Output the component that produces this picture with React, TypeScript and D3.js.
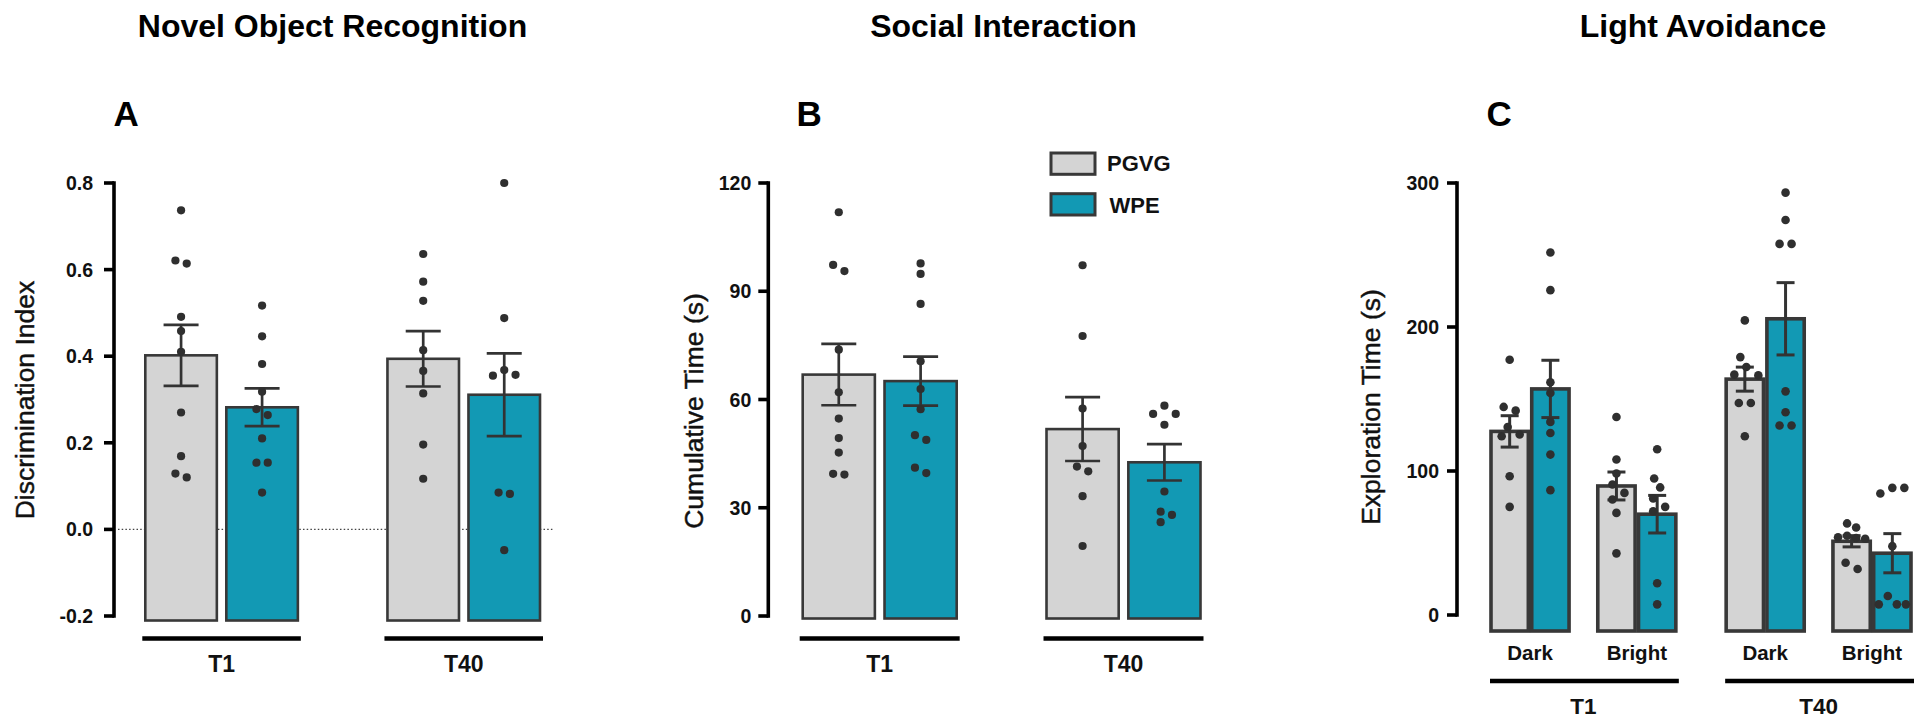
import React from "react";
import * as d3 from "d3";

// ---------- shared ----------
const FONT = "'Liberation Sans', Arial, Helvetica, sans-serif";
const GRAY = "#d4d4d4";
const TEAL = "#1299b4";
const EDGE = "#383838";
const DOT = "#2f2f2f";
const seriesNames = ["PGVG", "WPE"];
const seriesFill: Record<string, string> = { PGVG: GRAY, WPE: TEAL };

// ---------- Panel A: Novel Object Recognition ----------
const norGroups = ["T1", "T40"];
const norTicks = [-0.2, 0, 0.2, 0.4, 0.6, 0.8];
const norPGVGMean = [0.402, 0.394];
const norPGVGSem = [0.0705, 0.064];
const norWPEMean = [0.282, 0.311];
const norWPESem = [0.0435, 0.0955];
const norPGVG_T1 = [0.737, 0.621, 0.614, 0.491, 0.458, 0.41, 0.27, 0.169, 0.129, 0.12];
const norWPE_T1 = [0.517, 0.446, 0.382, 0.318, 0.278, 0.264, 0.21, 0.154, 0.154, 0.085];
const norPGVG_T40 = [0.636, 0.572, 0.528, 0.414, 0.366, 0.314, 0.196, 0.117];
const norWPE_T40 = [0.8, 0.488, 0.368, 0.357, 0.355, 0.085, 0.082, -0.048];

// ---------- Panel B: Social Interaction ----------
const siGroups = ["T1", "T40"];
const siTicks = [0, 30, 60, 90, 120];
const siPGVGMean = [66.9, 51.8];
const siPGVGSem = [8.5, 8.85];
const siWPEMean = [65.1, 42.6];
const siWPESem = [6.8, 5.05];
const siPGVG_T1 = [111.9, 97.3, 95.6, 73.8, 62.0, 54.7, 49.3, 45.3, 39.4, 39.2];
const siWPE_T1 = [97.7, 94.8, 86.5, 70.6, 62.9, 57.3, 50.1, 48.8, 41.1, 39.6];
const siPGVG_T40 = [97.2, 77.6, 57.5, 47.1, 41.4, 40.1, 33.2, 19.4];
const siWPE_T40 = [58.3, 56.0, 56.0, 53.0, 34.5, 28.9, 28.0, 26.0];

// ---------- Panel C: Light Avoidance ----------
const laGroups = ["T1", "T40"];
const laConditions = ["Dark", "Bright"];
const laTicks = [0, 100, 200, 300];
// order: T1 Dark, T1 Bright, T40 Dark, T40 Bright
const laPGVGMean = [127.5, 89.6, 163.8, 51.2];
const laPGVGSem = [10.9, 9.7, 8.35, 3.9];
const laWPEMean = [157.0, 70.0, 205.7, 42.9];
const laWPESem = [19.9, 13.05, 25.1, 13.6];
const laPGVG_T1_Dark = [177.3, 144.5, 141.9, 130.6, 125.3, 124.1, 96.4, 75.1];
const laWPE_T1_Dark = [251.7, 225.6, 161.6, 154.2, 134.1, 126.4, 111.4, 86.7];
const laPGVG_T1_Bright = [137.5, 108.0, 98.3, 90.6, 84.8, 80.2, 70.9, 42.8];
const laWPE_T1_Bright = [115.1, 94.8, 88.6, 80.9, 75.1, 72.1, 22.0, 7.4];
const laPGVG_T40_Dark = [204.6, 179.1, 172.2, 166.9, 166.4, 147.2, 147.2, 124.1];
const laWPE_T40_Dark = [293.3, 274.3, 257.7, 257.7, 155.3, 140.8, 131.6, 131.6];
const laPGVG_T40_Bright = [63.6, 60.8, 55.0, 54.0, 53.5, 53.0, 36.3, 31.9];
const laWPE_T40_Bright = [88.3, 88.3, 84.4, 47.8, 13.2, 7.4, 7.4, 7.4];

// ---------- helpers ----------
const fmtA = d3.formatLocale({ decimal: ".", thousands: ",", grouping: [3], currency: ["", ""], minus: "-" }).format(".1f");

function swarm(ys: number[], D: number, s: number, maxOff: number): number[] {
  const n = ys.length;
  const order = d3.range(n).sort((a, b) => ys[a] - ys[b]);
  const xs = new Array<number>(n).fill(0);
  const placed: number[] = [];
  const cands: number[] = [0];
  for (let k = 1; k <= 16; k++) cands.push((k * s) / 2, (-k * s) / 2);
  for (const i of order) {
    let chosen = cands[cands.length - 1];
    for (const c of cands) {
      let ok = true;
      for (const j of placed) {
        if (Math.hypot(xs[j] - c, ys[j] - ys[i]) < D - 1e-6) {
          ok = false;
          break;
        }
      }
      if (ok) {
        chosen = c;
        break;
      }
    }
    xs[i] = chosen;
    placed.push(i);
  }
  const comps: number[][] = [];
  let cur: number[] = [];
  order.forEach((i, k) => {
    if (k > 0 && ys[i] - ys[order[k - 1]] >= D) {
      comps.push(cur);
      cur = [];
    }
    cur.push(i);
  });
  if (cur.length) comps.push(cur);
  for (const c of comps) {
    const m = d3.mean(c, (i) => xs[i]) ?? 0;
    c.forEach((i) => (xs[i] -= m));
    const ext = d3.max(c, (i) => Math.abs(xs[i])) ?? 0;
    if (ext > maxOff) c.forEach((i) => (xs[i] *= maxOff / ext));
  }
  return xs;
}

type Bar = { key: string; x: number; w: number; fill: string; mean: number; sem: number; dots: number[] };

type PanelCfg = {
  id: string;
  y: d3.ScaleLinear<number, number>;
  ticks: number[];
  fmt: (v: number) => string;
  axisX: number;
  labelGap: number;
  bars: Bar[];
  barExt: number;
  barStroke: number;
  errStroke: number;
  capW: number;
  dotR: number;
  D: number;
  s: number;
};

function Panel({ cfg }: { cfg: PanelCfg }) {
  const { y, axisX } = cfg;
  const [y0, y1] = y.range();
  const bottom = y0 + cfg.barExt;
  return (
    <g>
      {cfg.bars.map((b) => (
        <rect
          key={"r" + b.key}
          x={b.x}
          y={y(b.mean)}
          width={b.w}
          height={bottom - y(b.mean)}
          fill={b.fill}
          stroke={EDGE}
          strokeWidth={cfg.barStroke}
        />
      ))}
      {cfg.bars.map((b) => {
        const cx = b.x + b.w / 2;
        const t = y(b.mean + b.sem);
        const lo = y(b.mean - b.sem);
        return (
          <g key={"e" + b.key} stroke="#333" strokeWidth={cfg.errStroke}>
            <line x1={cx} x2={cx} y1={t} y2={lo} />
            <line x1={cx - cfg.capW / 2} x2={cx + cfg.capW / 2} y1={t} y2={t} />
            <line x1={cx - cfg.capW / 2} x2={cx + cfg.capW / 2} y1={lo} y2={lo} />
          </g>
        );
      })}
      {cfg.bars.map((b) => {
        const cx = b.x + b.w / 2;
        const ys = b.dots.map((v) => y(v));
        const xs = swarm(ys, cfg.D, cfg.s, b.w / 2 - cfg.dotR - 0.8);
        return (
          <g key={"d" + b.key}>
            {ys.map((yy, i) => (
              <circle key={i} cx={cx + xs[i]} cy={yy} r={cfg.dotR} fill={DOT} />
            ))}
          </g>
        );
      })}
      <line x1={axisX} x2={axisX} y1={y1} y2={y0} stroke="#000" strokeWidth={3.6} strokeLinecap="square" />
      {cfg.ticks.map((t) => (
        <g key={"t" + t}>
          <line x1={axisX - 10} x2={axisX} y1={y(t)} y2={y(t)} stroke="#000" strokeWidth={3.6} />
          <text
            x={axisX - cfg.labelGap}
            y={y(t)}
            dy="0.36em"
            textAnchor="end"
            fontFamily={FONT}
            fontWeight="bold"
            fontSize={19.5}
            fill="#111"
          >
            {cfg.fmt(t)}
          </text>
        </g>
      ))}
    </g>
  );
}

const TOP = 183;
const BOT = 616;

// Panel A setup
const yA = d3.scaleLinear().domain([-0.2, 0.8]).range([BOT, TOP]);
const outerA = d3.scaleBand<string>().domain(norGroups).range([145.3, 540]).paddingInner(0.37).paddingOuter(0);
const innerA = d3.scaleBand<string>().domain(seriesNames).range([0, outerA.bandwidth()]).paddingInner(0.117);
const norDots: Record<string, number[][]> = { PGVG: [norPGVG_T1, norPGVG_T40], WPE: [norWPE_T1, norWPE_T40] };
const norMean: Record<string, number[]> = { PGVG: norPGVGMean, WPE: norWPEMean };
const norSem: Record<string, number[]> = { PGVG: norPGVGSem, WPE: norWPESem };
const barsA: Bar[] = norGroups.flatMap((g, gi) =>
  seriesNames.map((s) => ({
    key: g + s,
    x: (outerA(g) ?? 0) + (innerA(s) ?? 0),
    w: innerA.bandwidth(),
    fill: seriesFill[s],
    mean: norMean[s][gi],
    sem: norSem[s][gi],
    dots: norDots[s][gi],
  }))
);

// Panel B setup
const yB = d3.scaleLinear().domain([0, 120]).range([BOT, TOP]);
const outerB = d3.scaleBand<string>().domain(siGroups).range([802.7, 1200.5]).paddingInner(0.3684).paddingOuter(0);
const innerB = d3.scaleBand<string>().domain(seriesNames).range([0, outerB.bandwidth()]).paddingInner(0.118);
const siDots: Record<string, number[][]> = { PGVG: [siPGVG_T1, siPGVG_T40], WPE: [siWPE_T1, siWPE_T40] };
const siMean: Record<string, number[]> = { PGVG: siPGVGMean, WPE: siWPEMean };
const siSem: Record<string, number[]> = { PGVG: siPGVGSem, WPE: siWPESem };
const barsB: Bar[] = siGroups.flatMap((g, gi) =>
  seriesNames.map((s) => ({
    key: g + s,
    x: (outerB(g) ?? 0) + (innerB(s) ?? 0),
    w: innerB.bandwidth(),
    fill: seriesFill[s],
    mean: siMean[s][gi],
    sem: siSem[s][gi],
    dots: siDots[s][gi],
  }))
);

// Panel C setup
const yC = d3.scaleLinear().domain([0, 300]).range([615, TOP]);
const outerC = d3.scaleBand<string>().domain(laGroups).range([1491, 1911]).paddingInner(0.214).paddingOuter(0);
const midC = d3.scaleBand<string>().domain(laConditions).range([0, outerC.bandwidth()]).paddingInner(0.269);
const innerC = d3.scaleBand<string>().domain(seriesNames).range([0, midC.bandwidth()]).paddingInner(0.0835);
const laDots: Record<string, number[][]> = {
  PGVG: [laPGVG_T1_Dark, laPGVG_T1_Bright, laPGVG_T40_Dark, laPGVG_T40_Bright],
  WPE: [laWPE_T1_Dark, laWPE_T1_Bright, laWPE_T40_Dark, laWPE_T40_Bright],
};
const laMean: Record<string, number[]> = { PGVG: laPGVGMean, WPE: laWPEMean };
const laSem: Record<string, number[]> = { PGVG: laPGVGSem, WPE: laWPESem };
const barsC: Bar[] = laGroups.flatMap((g, gi) =>
  laConditions.flatMap((c, ci) =>
    seriesNames.map((s) => {
      const idx = gi * laConditions.length + ci;
      return {
        key: g + c + s,
        x: (outerC(g) ?? 0) + (midC(c) ?? 0) + (innerC(s) ?? 0),
        w: innerC.bandwidth(),
        fill: seriesFill[s],
        mean: laMean[s][idx],
        sem: laSem[s][idx],
        dots: laDots[s][idx],
      };
    })
  )
);

const cfgA: PanelCfg = {
  id: "A", y: yA, ticks: norTicks, fmt: fmtA, axisX: 114, labelGap: 21, bars: barsA,
  barExt: 4.5, barStroke: 2.6, errStroke: 2.7, capW: 35, dotR: 4.1, D: 10.2, s: 11.3,
};
const cfgB: PanelCfg = {
  id: "B", y: yB, ticks: siTicks, fmt: (v) => String(v), axisX: 768.3, labelGap: 17, bars: barsB,
  barExt: 2.5, barStroke: 2.6, errStroke: 2.7, capW: 35, dotR: 4.1, D: 10.2, s: 11.3,
};
const cfgC: PanelCfg = {
  id: "C", y: yC, ticks: laTicks, fmt: (v) => String(v), axisX: 1457, labelGap: 18, bars: barsC,
  barExt: 16, barStroke: 3.6, errStroke: 3, capW: 18, dotR: 4.3, D: 10.5, s: 12,
};

function GroupLine({ x0, x1, y }: { x0: number; x1: number; y: number }) {
  return <line x1={x0} x2={x1} y1={y} y2={y} stroke="#000" strokeWidth={4.3} />;
}

export default function App() {
  const titleStyle = { fontFamily: FONT, fontWeight: "bold" as const, fontSize: 32, fill: "#000" };
  const letterStyle = { fontFamily: FONT, fontWeight: "bold" as const, fontSize: 35, fill: "#000" };
  const yLabStyle = { fontFamily: FONT, fontSize: 26.5, fill: "#111", stroke: "#111", strokeWidth: 0.45 };
  const grpStyle = { fontFamily: FONT, fontWeight: "bold" as const, fontSize: 23, fill: "#111" };

  return (
    <>
      <style>{"body{margin:0;overflow:hidden;background:#fff}"}</style>
      <svg width={1920} height={723} viewBox="0 0 1920 723" style={{ display: "block", background: "#fff" }}>
        <text x={332.5} y={37} textAnchor="middle" {...titleStyle}>Novel Object Recognition</text>
        <text x={1003.5} y={37} textAnchor="middle" {...titleStyle}>Social Interaction</text>
        <text x={1703} y={37} textAnchor="middle" {...titleStyle}>Light Avoidance</text>

        <text x={113.5} y={126} {...letterStyle}>A</text>
        <text x={796.5} y={126} {...letterStyle}>B</text>
        <text x={1486.5} y={126} {...letterStyle}>C</text>

        <text transform={`translate(33.5,400) rotate(-90)`} textAnchor="middle" {...yLabStyle}>Discrimination Index</text>
        <text transform={`translate(702.5,411) rotate(-90)`} textAnchor="middle" {...yLabStyle}>Cumulative Time (s)</text>
        <text transform={`translate(1380,407) rotate(-90)`} textAnchor="middle" {...yLabStyle}>Exploration Time (s)</text>

        <line
          x1={118}
          x2={554}
          y1={yA(0)}
          y2={yA(0)}
          stroke="#444"
          strokeWidth={1.3}
          strokeDasharray="1.5 2.2"
        />

        <Panel cfg={cfgA} />
        <Panel cfg={cfgB} />
        <Panel cfg={cfgC} />

        {norGroups.map((g) => {
          const x0 = outerA(g) ?? 0;
          const x1 = x0 + outerA.bandwidth();
          return (
            <g key={"ga" + g}>
              <GroupLine x0={x0 - 3} x1={x1 + 3} y={638.5} />
              <text x={(x0 + x1) / 2} y={672} textAnchor="middle" {...grpStyle}>{g}</text>
            </g>
          );
        })}
        {siGroups.map((g) => {
          const x0 = outerB(g) ?? 0;
          const x1 = x0 + outerB.bandwidth();
          return (
            <g key={"gb" + g}>
              <GroupLine x0={x0 - 3} x1={x1 + 3} y={638.5} />
              <text x={(x0 + x1) / 2} y={672} textAnchor="middle" {...grpStyle}>{g}</text>
            </g>
          );
        })}
        {laGroups.map((g) => {
          const x0 = outerC(g) ?? 0;
          const x1 = x0 + outerC.bandwidth();
          return (
            <g key={"gc" + g}>
              {laConditions.map((c) => {
                const cx = x0 + (midC(c) ?? 0) + midC.bandwidth() / 2;
                return (
                  <text key={c} x={cx} y={660} textAnchor="middle" fontFamily={FONT} fontWeight="bold" fontSize={20.5} fill="#111">
                    {c}
                  </text>
                );
              })}
              <GroupLine x0={x0 - 1} x1={x1 + 3} y={681} />
              <text x={(x0 + x1) / 2} y={714} textAnchor="middle" {...grpStyle} fontSize={22.5}>{g}</text>
            </g>
          );
        })}

        {seriesNames.map((s, i) => (
          <g key={"lg" + s}>
            <rect x={1051} y={153 + i * 40.7} width={44} height={21.3} fill={seriesFill[s]} stroke={EDGE} strokeWidth={3} />
            <text x={1107 + i * 2.5} y={171 + i * 42.3} fontFamily={FONT} fontWeight="bold" fontSize={22} fill="#111">
              {s}
            </text>
          </g>
        ))}
      </svg>
    </>
  );
}
